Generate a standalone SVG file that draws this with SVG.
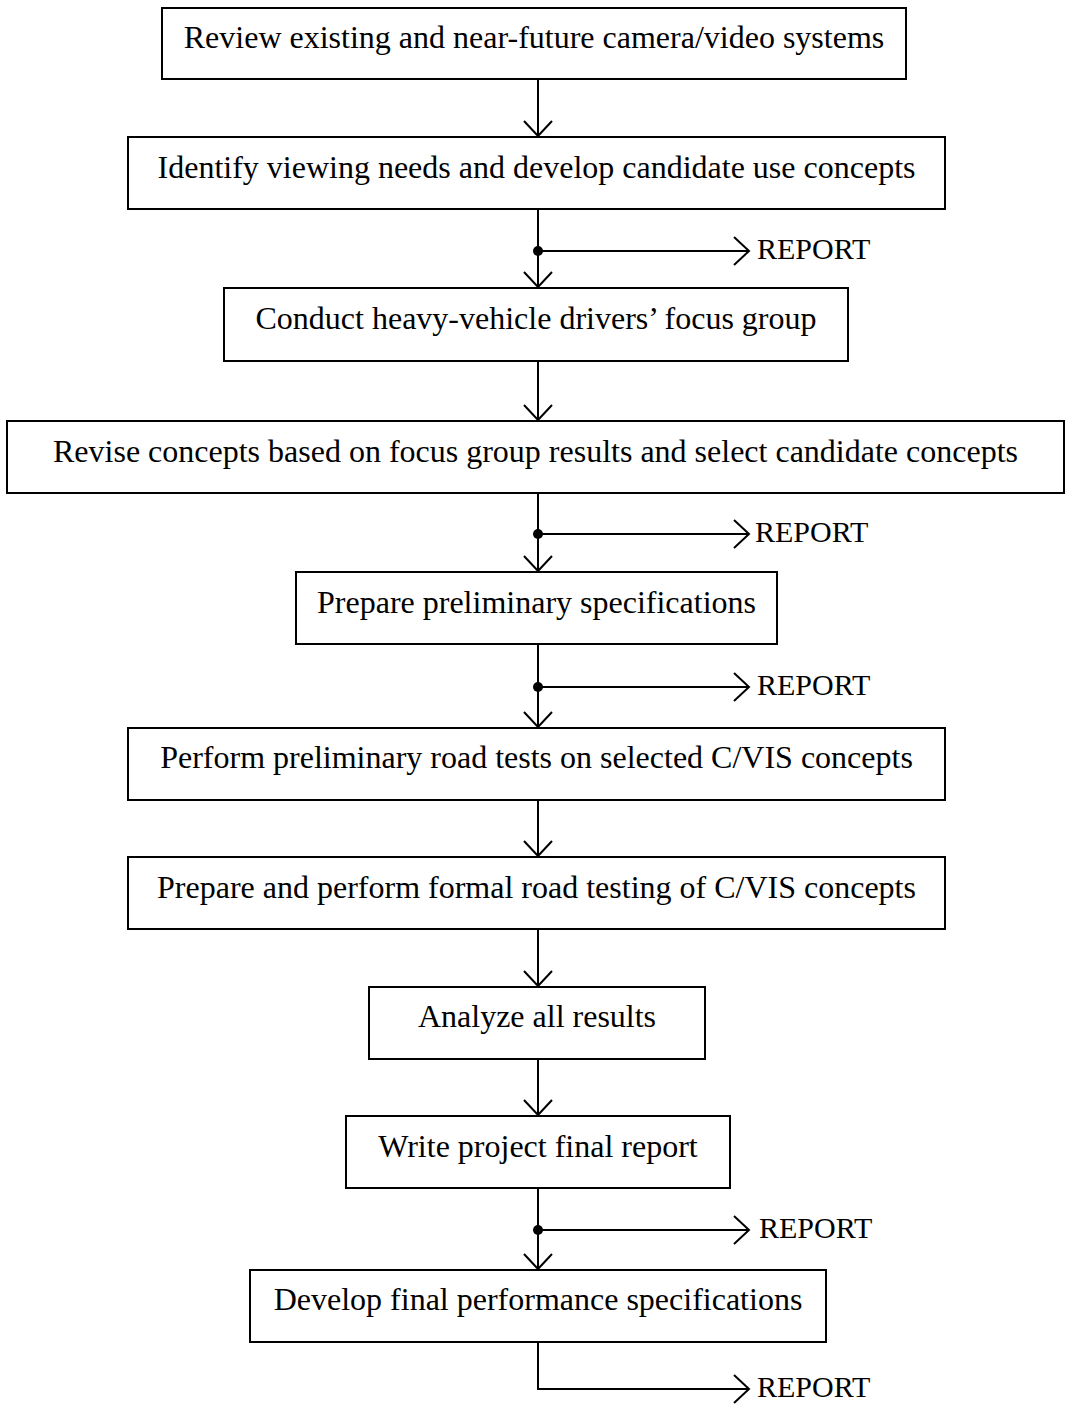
<svg xmlns="http://www.w3.org/2000/svg" width="1066" height="1405" viewBox="0 0 1066 1405">
<defs>
<style>
.box{fill:#fff;stroke:#000;stroke-width:2}
.t{font-family:"Liberation Serif","Times New Roman",serif;font-size:32px;fill:#000;text-anchor:middle}
.r{font-family:"Liberation Serif","Times New Roman",serif;font-size:30px;fill:#000}
.c{fill:none;stroke:#000;stroke-width:2}
.dot{fill:#000}
</style>
<marker id="ah" viewBox="-16 -8 18 16" refX="0" refY="0" markerWidth="18" markerHeight="16" markerUnits="userSpaceOnUse" orient="auto" overflow="visible">
<path d="M-15,-14 L0,0 L-15,14" fill="none" stroke="#000" stroke-width="2"/>
</marker>
</defs>
<rect width="1066" height="1405" fill="#fff"/>
<g id="connectors">
<line class="c" x1="538" y1="79" x2="538" y2="136" marker-end="url(#ah)"/>
<line class="c" x1="538" y1="209" x2="538" y2="287" marker-end="url(#ah)"/>
<line class="c" x1="538" y1="251" x2="749" y2="251" marker-end="url(#ah)"/>
<circle class="dot" cx="538" cy="251" r="5"/>
<text class="r" x="757" y="259">REPORT</text>
<line class="c" x1="538" y1="361" x2="538" y2="420" marker-end="url(#ah)"/>
<line class="c" x1="538" y1="493" x2="538" y2="571" marker-end="url(#ah)"/>
<line class="c" x1="538" y1="534" x2="749" y2="534" marker-end="url(#ah)"/>
<circle class="dot" cx="538" cy="534" r="5"/>
<text class="r" x="755" y="542">REPORT</text>
<line class="c" x1="538" y1="644" x2="538" y2="727" marker-end="url(#ah)"/>
<line class="c" x1="538" y1="687" x2="749" y2="687" marker-end="url(#ah)"/>
<circle class="dot" cx="538" cy="687" r="5"/>
<text class="r" x="757" y="695">REPORT</text>
<line class="c" x1="538" y1="800" x2="538" y2="856" marker-end="url(#ah)"/>
<line class="c" x1="538" y1="929" x2="538" y2="986" marker-end="url(#ah)"/>
<line class="c" x1="538" y1="1059" x2="538" y2="1115" marker-end="url(#ah)"/>
<line class="c" x1="538" y1="1188" x2="538" y2="1269" marker-end="url(#ah)"/>
<line class="c" x1="538" y1="1230" x2="749" y2="1230" marker-end="url(#ah)"/>
<circle class="dot" cx="538" cy="1230" r="5"/>
<text class="r" x="759" y="1238">REPORT</text>
<polyline class="c" points="538,1342 538,1389 749,1389" marker-end="url(#ah)"/>
<text class="r" x="757" y="1397">REPORT</text>
</g>
<g id="n1"><rect class="box" x="162" y="8" width="744" height="71"/><text class="t" x="534" y="48">Review existing and near-future camera/video systems</text></g>
<g id="n2"><rect class="box" x="128" y="137" width="817" height="72"/><text class="t" x="536.5" y="178">Identify viewing needs and develop candidate use concepts</text></g>
<g id="n3"><rect class="box" x="224" y="288" width="624" height="73"/><text class="t" x="536" y="329">Conduct heavy-vehicle drivers’ focus group</text></g>
<g id="n4"><rect class="box" x="7" y="421" width="1057" height="72"/><text class="t" x="535.5" y="462">Revise concepts based on focus group results and select candidate concepts</text></g>
<g id="n5"><rect class="box" x="296" y="572" width="481" height="72"/><text class="t" x="536.5" y="613">Prepare preliminary specifications</text></g>
<g id="n6"><rect class="box" x="128" y="728" width="817" height="72"/><text class="t" x="536.5" y="768">Perform preliminary road tests on selected C/VIS concepts</text></g>
<g id="n7"><rect class="box" x="128" y="857" width="817" height="72"/><text class="t" x="536.5" y="898">Prepare and perform formal road testing of C/VIS concepts</text></g>
<g id="n8"><rect class="box" x="369" y="987" width="336" height="72"/><text class="t" x="537" y="1027">Analyze all results</text></g>
<g id="n9"><rect class="box" x="346" y="1116" width="384" height="72"/><text class="t" x="538" y="1157">Write project final report</text></g>
<g id="n10"><rect class="box" x="250" y="1270" width="576" height="72"/><text class="t" x="538" y="1310">Develop final performance specifications</text></g>
</svg>
